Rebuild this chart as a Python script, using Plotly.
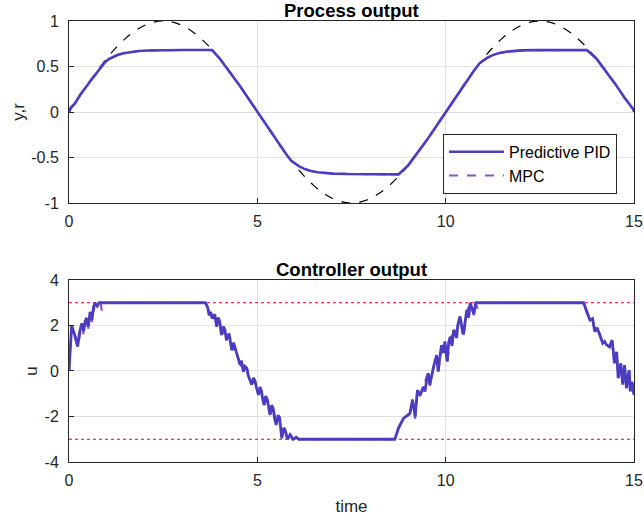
import plotly.graph_objects as go
from plotly.subplots import make_subplots

# ---------------- data ----------------
t_ref = [0, 0.25, 0.5, 0.75, 1, 1.25, 1.5, 1.75, 2, 2.25, 2.5, 2.75, 3, 3.25, 3.5, 3.75,
         4, 4.25, 4.5, 4.75, 5, 5.25, 5.5, 5.75, 6, 6.25, 6.5, 6.75, 7, 7.25, 7.5, 7.75,
         8, 8.25, 8.5, 8.75, 9, 9.25, 9.5, 9.75, 10, 10.25, 10.5, 10.75, 11, 11.25, 11.5,
         11.75, 12, 12.25, 12.5, 12.75, 13, 13.25, 13.5, 13.75, 14, 14.25, 14.5, 14.75, 15]
r_ref = [0, 0.156, 0.309, 0.454, 0.588, 0.707, 0.809, 0.891, 0.951, 0.988, 1.0, 0.988,
         0.951, 0.891, 0.809, 0.707, 0.588, 0.454, 0.309, 0.156, 0, -0.156, -0.309, -0.454,
         -0.588, -0.707, -0.809, -0.891, -0.951, -0.988, -1.0, -0.988, -0.951, -0.891, -0.809,
         -0.707, -0.588, -0.454, -0.309, -0.156, 0, 0.156, 0.309, 0.454, 0.588, 0.707, 0.809,
         0.891, 0.951, 0.988, 1.0, 0.988, 0.951, 0.891, 0.809, 0.707, 0.588, 0.454, 0.309,
         0.156, 0]

t_y = [0, 0.05, 0.15, 0.3, 0.55, 0.8, 0.95, 1.05, 1.15, 1.3, 1.45, 1.65, 1.85, 2.1, 2.5, 3.0,
       3.5, 3.8, 4.0, 4.25, 4.5, 4.75, 5.0, 5.25, 5.5, 5.75, 5.9, 6.0, 6.1, 6.25, 6.4, 6.6,
       6.8, 7.0, 7.4, 8.0, 8.75, 9.0, 9.25, 9.5, 9.75, 10.0, 10.25, 10.5, 10.75, 10.9, 11.0,
       11.1, 11.25, 11.4, 11.6, 11.8, 12.0, 12.4, 13.0, 13.75, 14.0, 14.25, 14.5, 14.75, 15.0]
y_pid = [0, 0.05, 0.09, 0.19, 0.33, 0.47, 0.545, 0.58, 0.603, 0.628, 0.645, 0.66, 0.67, 0.676,
         0.68, 0.681, 0.681, 0.681, 0.588, 0.454, 0.309, 0.156, 0.0, -0.156, -0.309, -0.454,
         -0.535, -0.57, -0.595, -0.625, -0.645, -0.662, -0.672, -0.677, -0.682, -0.684,
         -0.685, -0.588, -0.454, -0.309, -0.156, 0.0, 0.156, 0.309, 0.454, 0.535, 0.57, 0.595,
         0.625, 0.645, 0.662, 0.672, 0.677, 0.68, 0.681, 0.682, 0.588, 0.454, 0.309, 0.156,
         0.02]
y_mpc = [0, 0.045, 0.09, 0.19, 0.335, 0.47, 0.545, 0.58, 0.603, 0.628, 0.645, 0.66, 0.67, 0.676,
         0.68, 0.681, 0.681, 0.681, 0.59, 0.456, 0.31, 0.155, 0.0, -0.157, -0.31, -0.455,
         -0.535, -0.57, -0.595, -0.625, -0.645, -0.662, -0.672, -0.677, -0.682, -0.684,
         -0.685, -0.59, -0.455, -0.31, -0.157, 0.0, 0.157, 0.31, 0.455, 0.535, 0.57, 0.595,
         0.625, 0.645, 0.662, 0.672, 0.677, 0.68, 0.681, 0.682, 0.59, 0.455, 0.31, 0.157,
         0.02]

t_u = [0, 0.07, 0.12, 0.17, 0.23, 0.28, 0.34, 0.39, 0.43, 0.47, 0.51, 0.56, 0.61, 0.65, 0.69,
       0.75, 0.8, 3.62, 3.68, 3.72, 3.76, 3.81, 3.87, 3.92, 3.96, 4.0, 4.05, 4.1, 4.14, 4.18,
       4.25, 4.29, 4.32, 4.37, 4.41, 4.45, 4.49, 4.54, 4.58, 4.63, 4.67, 4.72, 4.76, 4.79,
       4.85, 4.9, 4.94, 4.98, 5.03, 5.07, 5.11, 5.15, 5.18, 5.22, 5.27, 5.31, 5.34, 5.38,
       5.42, 5.46, 5.5, 5.55, 5.59, 5.65, 5.7, 5.74, 5.8, 5.87, 5.95, 6.03, 6.1, 8.65, 8.75,
       8.88, 8.95, 9.05, 9.12, 9.19, 9.25, 9.32, 9.41, 9.45, 9.5, 9.54, 9.58, 9.62, 9.67,
       9.71, 9.76, 9.8, 9.85, 9.89, 9.94, 9.98, 10.04, 10.08, 10.12, 10.17, 10.21, 10.25,
       10.29, 10.32, 10.38, 10.42, 10.47, 10.52, 10.56, 10.61, 10.65, 10.75, 10.8, 13.66,
       13.74, 13.79, 13.83, 13.9, 13.96, 14.02, 14.1, 14.17, 14.22, 14.27, 14.35, 14.42,
       14.48, 14.54, 14.58, 14.65, 14.7, 14.75, 14.8, 14.87, 14.9, 14.95, 15.0]
u_pid = [0, 2.0, 1.75, 1.5, 1.07, 1.7, 2.1, 1.75, 2.2, 2.33, 1.95, 2.6, 2.25, 2.8, 3.0,
         2.85, 3.0, 3.0, 2.8, 2.45, 2.6, 2.3, 2.5, 1.95, 2.35, 2.17, 1.58, 1.95, 1.8, 1.36,
         1.65, 1.2, 0.92, 1.25, 1.0, 0.75, 0.63, 0.27, 0.45, -0.03, 0.2, 0.12, -0.2, -0.32,
         -0.6, -0.3, -0.45, -0.75, -1.05, -0.7, -0.9, -1.3, -1.49, -1.1, -1.28, -1.7, -1.93,
         -1.5, -1.64, -2.1, -2.37, -1.95, -2.05, -2.96, -2.5, -2.6, -3.0, -2.8, -3.0, -2.92,
         -3.0, -3.0, -2.5, -2.08, -2.0, -1.86, -1.27, -2.0, -0.84, -1.06, -0.69, -0.9, -0.35,
         -0.1, -0.6, -0.2, 0.12, 0.4, 0.7, 0.0, 0.6, 1.14, 0.8, 1.3, 0.41, 1.25, 1.5, 1.1,
         1.8, 1.73, 1.45, 2.0, 2.4, 2.1, 1.6, 2.2, 2.68, 2.35, 3.0, 2.5, 3.0, 3.0, 2.6, 2.35,
         2.24, 2.3, 1.73, 1.9, 1.58, 1.22, 1.3, 1.15, 1.07, 1.36, 0.34, 0.84, -0.32, 0.34,
         -0.6, 0.26, -0.76, 0.04, -0.9, -0.48, -1.05]

t_u_mpc = [0, 0.07, 0.12, 0.17, 0.23, 0.34, 0.39, 0.47, 0.51, 0.56, 0.61, 0.69, 0.75, 0.8,
           0.84, 0.87, 0.9, 3.62, 3.68, 3.74, 3.81, 3.87, 3.92, 4.0, 4.05, 4.14, 4.18, 4.25,
           4.32, 4.41, 4.49, 4.54, 4.63, 4.72, 4.79, 4.85, 4.94, 5.03, 5.11, 5.18, 5.27,
           5.34, 5.42, 5.5, 5.59, 5.65, 5.74, 5.8, 5.87, 5.95, 6.03, 6.1, 8.65, 8.75, 8.88,
           9.05, 9.12, 9.19, 9.25, 9.32, 9.41, 9.54, 9.58, 9.67, 9.76, 9.8, 9.89, 9.98,
           10.04, 10.12, 10.25, 10.32, 10.38, 10.47, 10.56, 10.65, 10.75, 10.8, 10.85, 10.9,
           13.66, 13.74, 13.83, 13.9, 13.96, 14.02, 14.1, 14.17, 14.27, 14.35, 14.42, 14.48,
           14.54, 14.58, 14.65, 14.7, 14.75, 14.8, 14.87, 14.9, 14.95, 15.0]
u_mpc = [0, 1.95, 1.7, 1.45, 1.05, 2.05, 1.6, 2.3, 1.85, 2.55, 2.15, 2.95, 2.8, 3.0,
         3.0, 2.65, 3.0, 3.0, 2.8, 2.5, 2.3, 2.45, 1.95, 2.1, 1.6, 1.75, 1.35, 1.6, 0.95,
         0.95, 0.6, 0.3, -0.05, 0.15, -0.35, -0.55, -0.45, -1.0, -0.85, -1.5, -1.2, -1.9,
         -1.6, -2.35, -2.0, -2.95, -2.65, -3.0, -2.85, -3.0, -2.9, -3.0, -3.0, -2.5, -2.1,
         -1.9, -1.25, -2.1, -0.85, -1.1, -0.7, -0.05, -0.65, 0.1, 0.65, -0.1, 1.1, 1.25,
         0.35, 1.45, 1.7, 1.95, 2.35, 1.45, 2.6, 3.0, 2.45, 3.0, 2.7, 3.0, 3.0, 2.6, 2.2,
         2.3, 1.75, 1.85, 1.6, 1.2, 1.15, 1.05, 1.4, 0.35, 0.8, -0.3, 0.3, -0.6, 0.2, -0.7,
         0.0, -0.85, -0.35, -1.05]

u_limits = [3, -3]
t_limits = [0, 15]

# ---------------- styling ----------------
PID_COLOR = "#4B3CC0"
MPC_COLOR = "#8E4FCF"
AX_COLOR = "#262626"
GRID_COLOR = "#E0E0E0"
FONT = "Liberation Sans, Arial, sans-serif"

fig = make_subplots(rows=2, cols=1, vertical_spacing=0.1746)

# top subplot
fig.add_trace(go.Scatter(x=t_ref, y=r_ref, mode="lines", line=dict(color="black", width=1.2, dash="dash", shape="spline"),
                         showlegend=False, hoverinfo="skip"), row=1, col=1)
fig.add_trace(go.Scatter(x=t_y, y=y_mpc, mode="lines", name="MPC", legendrank=2,
                         line=dict(color=MPC_COLOR, width=2, dash="dash")), row=1, col=1)
fig.add_trace(go.Scatter(x=t_y, y=y_pid, mode="lines", name="Predictive PID", legendrank=1,
                         line=dict(color=PID_COLOR, width=2.6)), row=1, col=1)

# bottom subplot
for lim in u_limits:
    fig.add_trace(go.Scatter(x=t_limits, y=[lim, lim], mode="lines", showlegend=False, hoverinfo="skip",
                             line=dict(color="red", width=1.2, dash="dot")), row=2, col=1)
fig.add_trace(go.Scatter(x=t_u_mpc, y=u_mpc, mode="lines", showlegend=False,
                         line=dict(color=MPC_COLOR, width=2.2, dash="dash")), row=2, col=1)
fig.add_trace(go.Scatter(x=t_u, y=u_pid, mode="lines", showlegend=False,
                         line=dict(color=PID_COLOR, width=2.8)), row=2, col=1)

axis_common = dict(showline=True, mirror=True, linecolor=AX_COLOR, linewidth=1,
                   ticks="inside", ticklen=5, tickcolor=AX_COLOR, showgrid=True,
                   gridcolor=GRID_COLOR, gridwidth=1, zeroline=False, automargin=False,
                   tickfont=dict(family=FONT, size=16, color=AX_COLOR))

fig.update_xaxes(range=[0, 15], tickvals=[0, 5, 10, 15], ticklabelstandoff=4, **axis_common)
fig.update_yaxes(ticklabelstandoff=6, **axis_common)
fig.update_yaxes(range=[-1, 1], tickvals=[-1, -0.5, 0, 0.5, 1], ticktext=["-1", "-0.5", "0", "0.5", "1"],
                 title=dict(text="y,r", font=dict(family=FONT, size=17, color=AX_COLOR), standoff=2), row=1, col=1)
fig.update_yaxes(range=[-4, 4], tickvals=[-4, -2, 0, 2, 4], ticktext=["-4", "-2", "0", "2", "4"],
                 title=dict(text="u", font=dict(family=FONT, size=17, color=AX_COLOR), standoff=2), row=2, col=1)
fig.update_xaxes(title=dict(text="time", font=dict(family=FONT, size=17, color=AX_COLOR), standoff=11), row=2, col=1)

fig.update_layout(
    width=644, height=520,
    margin=dict(l=69, r=10, t=21, b=58),
    plot_bgcolor="white", paper_bgcolor="white",
    font=dict(family=FONT, color=AX_COLOR),
    legend=dict(x=0.662, y=0.744, xanchor="left", yanchor="top", itemwidth=55,
                bgcolor="white", bordercolor=AX_COLOR, borderwidth=1,
                font=dict(family=FONT, size=16, color="black"), tracegroupgap=0),
    annotations=[
        dict(text="<b>Process output</b>", x=0.5, y=1.0, xref="paper", yref="paper",
             xanchor="center", yanchor="bottom", showarrow=False, yshift=-2,
             font=dict(family=FONT, size=18.5, color="black")),
        dict(text="<b>Controller output</b>", x=0.5, y=0.4127, xref="paper", yref="paper",
             xanchor="center", yanchor="bottom", showarrow=False, yshift=-2,
             font=dict(family=FONT, size=18.5, color="black")),
    ],
)

# remove the default page margin so the figure sits at the top-left corner of the window
fig.write_html("out.html", config={"displayModeBar": False},
               post_script="document.body.style.margin='0';")
